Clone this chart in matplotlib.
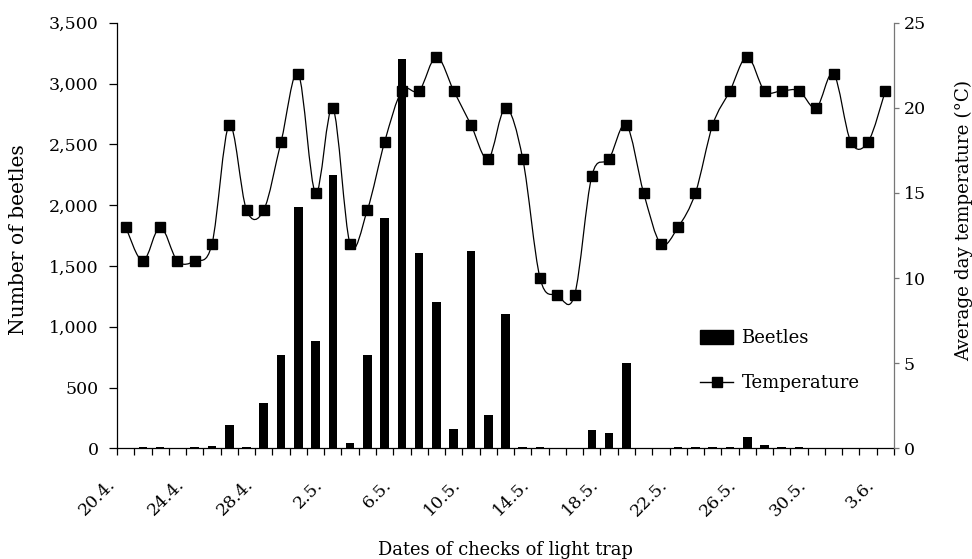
import numpy as np
import matplotlib
matplotlib.use("Agg")
import matplotlib.pyplot as plt
from matplotlib.path import Path
from matplotlib.patches import PathPatch, Patch
from matplotlib.lines import Line2D
from matplotlib.ticker import FuncFormatter
from matplotlib.transforms import ScaledTranslation

# ---------------- data ----------------
dates = ["20.4.", "21.4.", "22.4.", "23.4.", "24.4.", "25.4.", "26.4.", "27.4.",
         "28.4.", "29.4.", "30.4.", "1.5.", "2.5.", "3.5.", "4.5.", "5.5.",
         "6.5.", "7.5.", "8.5.", "9.5.", "10.5.", "11.5.", "12.5.", "13.5.",
         "14.5.", "15.5.", "16.5.", "17.5.", "18.5.", "19.5.", "20.5.", "21.5.",
         "22.5.", "23.5.", "24.5.", "25.5.", "26.5.", "27.5.", "28.5.", "29.5.",
         "30.5.", "31.5.", "1.6.", "2.6.", "3.6."]
beetles = [0, 12, 12, 0, 12, 22, 188, 12, 375, 768, 1985, 880, 2245, 42, 768,
           1890, 3200, 1603, 1203, 158, 1623, 272, 1108, 8, 8, 0, 0, 152, 124,
           704, 0, 0, 10, 10, 10, 10, 94, 24, 10, 10, 0, 0, 0, 0, 0]
temperature = [13, 11, 13, 11, 11, 12, 19, 14, 14, 18, 22, 15, 20, 12, 14, 18,
               21, 21, 23, 21, 19, 17, 20, 17, 10, 9, 9, 16, 17, 19, 15, 12, 13,
               15, 19, 21, 23, 21, 21, 21, 20, 22, 18, 18, 21]
label_every = 4
beetle_ticks = [0, 500, 1000, 1500, 2000, 2500, 3000, 3500]
temp_ticks = [0, 5, 10, 15, 20, 25]

FONT = "DejaVu Serif"
FS = 12.5
plt.rcParams["font.family"] = FONT
plt.rcParams["font.size"] = FS

W, H = 972, 559
fig = plt.figure(figsize=(W / 100, H / 100), dpi=100)
L, R, T, B = 117, 894, 22.7, 448.3
ax = fig.add_axes([L / W, (H - B) / H, (R - L) / W, (B - T) / H])
ax2 = ax.twinx()

x = np.arange(len(dates))

# bars
ax.bar(x, beetles, width=0.5, color="black", zorder=2)
ax.set_xlim(-0.5, len(dates) - 0.5)
ax.set_ylim(beetle_ticks[0], beetle_ticks[-1])
ax.set_yticks(beetle_ticks)
ax.yaxis.set_major_formatter(FuncFormatter(lambda v, p: f"{int(v):,}"))

# x ticks: marks at category boundaries, labels at centres
ax.set_xticks(np.arange(len(dates) + 1) - 0.5)
ax.set_xticklabels([])
lab_pos = x[::label_every]
ax.set_xticks(lab_pos, minor=True)
ax.set_xticklabels([dates[i] for i in lab_pos], minor=True, rotation=45,
                   ha="right", va="top", fontsize=FS)
ax.tick_params(axis="x", which="major", direction="out", length=4.8, width=0.9,
               color="black")
ax.tick_params(axis="x", which="minor", length=0, pad=20)
shift = ScaledTranslation(-7 / 100, 0, fig.dpi_scale_trans)
for lab in ax.get_xticklabels(minor=True):
    lab.set_transform(lab.get_transform() + shift)
ax.tick_params(axis="y", direction="out", length=6, width=0.9, pad=7.2,
               labelsize=FS)

for s in ["top", "right"]:
    ax.spines[s].set_visible(False)
ax.spines["left"].set_linewidth(0.9)
ax.spines["bottom"].set_linewidth(0.9)

# temperature smoothed line (Catmull-Rom style Bezier through the points)
def smooth_path(xs, ys):
    pts = np.column_stack([xs, ys]).astype(float)
    n = len(pts)
    verts = [pts[0]]
    codes = [Path.MOVETO]
    for i in range(n - 1):
        p0 = pts[i - 1] if i > 0 else pts[i]
        p1 = pts[i]
        p2 = pts[i + 1]
        p3 = pts[i + 2] if i + 2 < n else pts[i + 1]
        c1 = p1 + (p2 - p0) / 6.0
        c2 = p2 - (p3 - p1) / 6.0
        verts += [c1, c2, p2]
        codes += [Path.CURVE4] * 3
    return Path(verts, codes)

ax2.add_patch(PathPatch(smooth_path(x, temperature), facecolor="none",
                        edgecolor="black", lw=0.9, zorder=3))
ax2.plot(x, temperature, linestyle="none", marker="s", markersize=6.5,
         color="black", zorder=4)
ax2.set_ylim(temp_ticks[0], temp_ticks[-1])
ax2.set_yticks(temp_ticks)
ax2.tick_params(axis="y", direction="out", length=3.6, width=0.9, pad=3.4,
                labelsize=FS, color="#777777")
for s in ["top", "left", "bottom"]:
    ax2.spines[s].set_visible(False)
ax2.spines["right"].set_color("#777777")
ax2.spines["right"].set_linewidth(0.9)

# axis labels
fig.text(18.5 / W, 1 - 240 / H, "Number of beetles", rotation=90,
         ha="center", va="center", fontsize=14.6)
fig.text(964 / W, 1 - 220 / H, "Average day temperature (°C)", rotation=90,
         ha="center", va="center", fontsize=13.2)
fig.text((L + R) / 2 / W, 4 / H, "Dates of checks of light trap",
         ha="center", va="baseline", fontsize=12.9)

# legend
handles = [Patch(facecolor="black", edgecolor="black"),
           Line2D([], [], color="black", lw=1.0, marker="s", markersize=6.5)]
fig.legend(handles, ["Beetles", "Temperature"], loc="upper left",
           bbox_to_anchor=(700 / W, 1 - 329 / H), frameon=False, fontsize=13,
           handlelength=1.85, handleheight=0.8, handletextpad=0.45,
           labelspacing=1.52, borderpad=0, borderaxespad=0)

fig.savefig("out.png", dpi=100)
